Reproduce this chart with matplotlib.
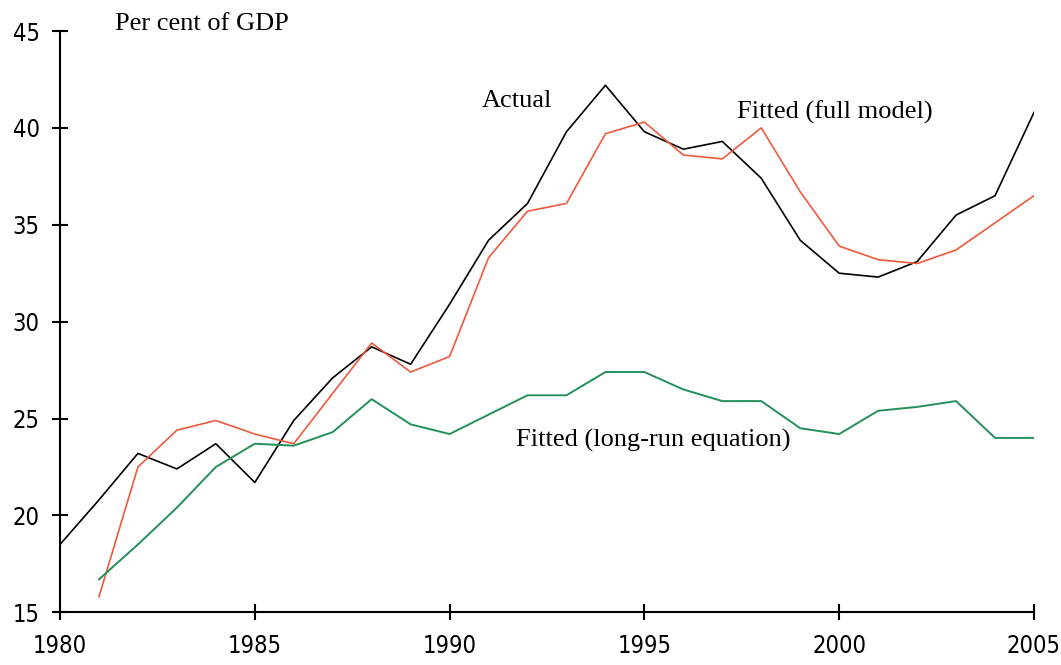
import matplotlib
matplotlib.use("Agg")
import matplotlib.pyplot as plt

years = list(range(1980, 2006))
actual = [18.5, 20.8, 23.2, 22.4, 23.7, 21.7, 24.9, 27.1, 28.7, 27.8, 30.9, 34.2,
          36.1, 39.8, 42.2, 39.8, 38.9, 39.3, 37.4, 34.2, 32.5, 32.3, 33.1, 35.5, 36.5, 40.8]
full_years = list(range(1981, 2006))
fitted_full = [15.8, 22.5, 24.4, 24.9, 24.2, 23.7, 26.3, 28.9, 27.4, 28.2, 33.3,
               35.7, 36.1, 39.7, 40.3, 38.6, 38.4, 40.0, 36.7, 33.9, 33.2, 33.0, 33.7, 35.1, 36.5]
fitted_long = [16.7, 18.5, 20.4, 22.5, 23.7, 23.6, 24.3, 26.0, 24.7, 24.2, 25.2,
               26.2, 26.2, 27.4, 27.4, 26.5, 25.9, 25.9, 24.5, 24.2, 25.4, 25.6, 25.9, 24.0, 24.0]

yticks = [15, 20, 25, 30, 35, 40, 45]
xticks = [1980, 1985, 1990, 1995, 2000, 2005]

fig = plt.figure(figsize=(10.61, 6.65), dpi=100)
ax = fig.add_axes([60/1061, 1 - 612.3/665, (1034-60)/1061, (612.3-31)/665])

ax.plot(years, actual, color="black", lw=1.2)
ax.plot(full_years, fitted_full, color="#f05a3c", lw=1.2)
ax.plot(full_years, fitted_long, color="#22905a", lw=1.4)

ax.set_xlim(1980, 2005)
ax.set_ylim(15, 45)
ax.set_xticks(xticks)
ax.set_yticks(yticks)
for s in ["top", "right"]:
    ax.spines[s].set_visible(False)
for s in ["left", "bottom"]:
    ax.spines[s].set_linewidth(1.5)
    ax.spines[s].set_clip_on(False)
ax.tick_params(axis="both", direction="inout", length=11, width=1.5,
               labelsize=17, colors="black")
ax.tick_params(axis="x", pad=10)
ax.tick_params(axis="y", pad=9)
for lab in ax.get_xticklabels() + ax.get_yticklabels():
    lab.set_fontfamily("DejaVu Sans")
    lab.set_fontstretch("condensed")

serif = "Liberation Serif"
fig.text(115/1061, 1 - 24/665, "Per cent of GDP", family=serif, fontsize=19,
         ha="left", va="center")
fig.text(482/1061, 1 - 101/665, "Actual", family=serif, fontsize=19,
         ha="left", va="center")
fig.text(737/1061, 1 - 112/665, "Fitted (full model)", family=serif, fontsize=19,
         ha="left", va="center")
fig.text(516/1061, 1 - 440/665, "Fitted (long-run equation)", family=serif, fontsize=19,
         ha="left", va="center")

fig.savefig("out.png", dpi=100)
